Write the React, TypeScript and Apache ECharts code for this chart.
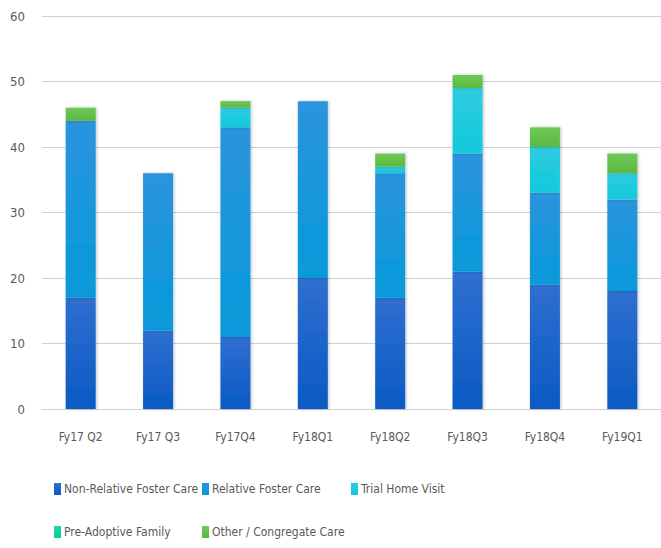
import React, { useEffect, useRef } from "react";
import * as echarts from "echarts";

const categories = ["Fy17 Q2", "Fy17 Q3", "Fy17Q4", "Fy18Q1", "Fy18Q2", "Fy18Q3", "Fy18Q4", "Fy19Q1"];
const nonRelative = [17, 12, 11, 20, 17, 21, 19, 18];
const relative = [27, 24, 32, 27, 19, 18, 14, 14];
const trialHome = [0, 0, 3, 0, 1, 10, 7, 4];
const preAdoptive = [0, 0, 0, 0, 0, 0, 0, 0];
const otherCongregate = [2, 0, 1, 0, 2, 2, 3, 3];
const yTicks = [0, 10, 20, 30, 40, 50, 60];

const FONT = "'DejaVu Sans Condensed', 'Liberation Sans Narrow', sans-serif";
const TEXT = "#595959";

function grad(top: string, bottom: string) {
  return new echarts.graphic.LinearGradient(0, 0, 0, 1, [
    { offset: 0, color: top },
    { offset: 1, color: bottom },
  ]);
}

export default function App() {
  const ref = useRef<HTMLDivElement>(null);
  useEffect(() => {
    if (!ref.current) return;
    const chart = echarts.init(ref.current, undefined, { renderer: "svg" });
    const names = [
      "Non-Relative Foster Care",
      "Relative Foster Care",
      "Trial Home Visit",
      "Pre-Adoptive Family",
      "Other / Congregate Care",
    ];
    const colors = [
      grad("#2f6fd0", "#0a5ac4"),
      grad("#2b94dd", "#0699da"),
      grad("#2fcbe0", "#12c9dc"),
      grad("#22d6a8", "#12c99a"),
      grad("#6fc85a", "#5cb840"),
    ];
    const legendColors = ["#1a62c8", "#1895dc", "#1ec8dc", "#1bd0a0", "#66c050"];
    const data = [nonRelative, relative, trialHome, preAdoptive, otherCongregate];
    const legendPos = [
      { left: 54, top: 483 },
      { left: 202, top: 483 },
      { left: 351, top: 483 },
      { left: 54, top: 526 },
      { left: 202, top: 526 },
    ];
    chart.setOption({
      animation: false,
      color: legendColors,
      grid: { left: 42, right: 0, top: 16, bottom: 139, containLabel: false },
      legend: names.map((n, i) => ({
        data: [n],
        left: legendPos[i].left,
        top: legendPos[i].top,
        itemWidth: 7,
        itemHeight: 12,
        itemGap: 4,
        padding: 0,
        icon: "rect",
        textStyle: { color: TEXT, fontSize: 12, fontFamily: FONT, padding: [0, 0, 0, -2] },
        selectedMode: false,
      })),
      xAxis: {
        type: "category",
        data: categories,
        axisLine: { show: true, lineStyle: { color: "#d0d0d0" } },
        axisTick: { show: false },
        axisLabel: { color: TEXT, fontSize: 12, fontFamily: FONT, margin: 22, interval: 0 },
      },
      yAxis: {
        type: "value",
        min: yTicks[0],
        max: yTicks[yTicks.length - 1],
        interval: 10,
        axisLine: { show: false },
        axisTick: { show: false },
        axisLabel: { color: TEXT, fontSize: 13, fontFamily: FONT, margin: 17 },
        splitLine: { lineStyle: { color: "#d0d0d0" } },
      },
      series: names.map((n, i) => ({
        name: n,
        type: "bar",
        stack: "total",
        barWidth: 30,
        data: data[i],
        itemStyle: {
          color: colors[i],
          shadowBlur: 3,
          shadowColor: "rgba(0,0,0,0.25)",
          shadowOffsetX: 1,
          shadowOffsetY: 0,
        },
      })),
    });
    return () => chart.dispose();
  }, []);
  return <div ref={ref} style={{ width: 661, height: 548, position: "absolute", left: 0, top: 0 }} />;
}
